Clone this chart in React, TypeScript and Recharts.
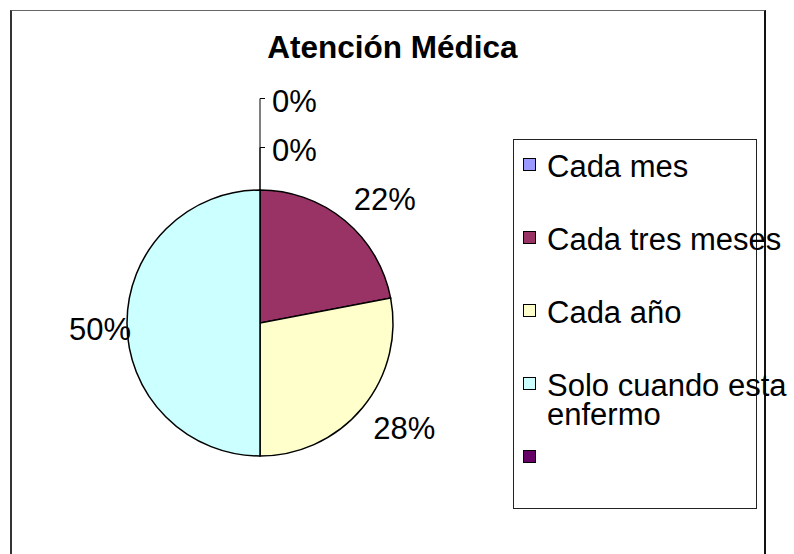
import React from 'react';
import { PieChart, Pie, Cell, Legend } from 'recharts';

const title = 'Atención Médica';
const categories = ['Cada mes', 'Cada tres meses', 'Cada año', 'Solo cuando esta enfermo', ''];
const values = [0, 22, 28, 50, 0];
const colors = ['#9999FF', '#993366', '#FFFFCC', '#CCFFFF', '#660066'];

const data = categories.map((name, i) => ({ name, value: values[i] }));

const FONT = '"Liberation Sans", Arial, Helvetica, sans-serif';
const FS = 31;
const RAD = Math.PI / 180;

const renderLabel = (props: any) => {
  const { cx, cy, midAngle, outerRadius, index, percent } = props;
  const text = `${Math.round((percent || 0) * 100)}%`;
  if (values[index] === 0) {
    const rank = values.slice(0, index).filter((v) => v === 0).length;
    const top = cy - outerRadius;
    const capCenter = top - 40 - 49 * rank;
    const tickY = capCenter - 2.5;
    return (
      <g key={`lbl-${index}`}>
        <polyline
          points={`${cx},${top} ${cx},${tickY} ${cx + 5},${tickY}`}
          fill="none"
          stroke="#000"
          strokeWidth={1}
        />
        <text x={cx + 12} y={capCenter + 11} fontSize={FS} fontFamily={FONT} fill="#000" textAnchor="start">
          {text}
        </text>
      </g>
    );
  }
  const cos = Math.cos(-midAngle * RAD);
  const sin = Math.sin(-midAngle * RAD);
  const horizontal = Math.abs(sin) < 0.2;
  const r = outerRadius + (horizontal ? -4 : 14);
  const px = cx + r * cos;
  const py = cy + r * sin;
  const w = text.length * FS * 0.667;
  const h = 22;
  const sx = Math.abs(cos) < 0.2 ? 0 : Math.sign(cos);
  const sy = horizontal ? 0 : Math.sign(sin);
  const ccx = px + (sx * w) / 2;
  const ccy = py + (sy * h) / 2 + (horizontal ? 6 : 0);
  return (
    <text
      key={`lbl-${index}`}
      x={ccx}
      y={ccy + 11}
      fontSize={FS}
      fontFamily={FONT}
      fill="#000"
      textAnchor="middle"
    >
      {text}
    </text>
  );
};

const renderLegend = () => (
  <div
    style={{
      position: 'relative',
      width: 244,
      height: 370,
      boxSizing: 'border-box',
      border: '1.5px solid #222',
      background: '#fff',
      fontFamily: FONT,
      fontSize: FS,
      color: '#000',
    }}
  >
    {categories.map((name, i) => (
      <div
        key={`leg-${i}`}
        style={{ position: 'absolute', left: 8.5, top: 12 + 73 * i, display: 'flex', alignItems: 'flex-start' }}
      >
        <div
          style={{
            width: 13,
            height: 13,
            boxSizing: 'border-box',
            border: '1px solid #000',
            background: colors[i],
            marginTop: 6,
            flex: '0 0 auto',
          }}
        />
        <div style={{ marginLeft: 11.5, width: 252, lineHeight: '29px', minHeight: 29 }}>{name}</div>
      </div>
    ))}
  </div>
);

export default function App() {
  return (
    <div
      style={{
        position: 'absolute',
        left: 0,
        top: 0,
        width: 794,
        height: 554,
        overflow: 'hidden',
        background: '#fff',
        fontFamily: FONT,
      }}
    >
      <div
        style={{
          position: 'absolute',
          left: 10,
          top: 10,
          width: 756,
          height: 620,
          boxSizing: 'border-box',
          borderTop: '1px solid #666',
          borderLeft: '2px solid #333',
          borderRight: '2px solid #111',
        }}
      />
      <div
        style={{
          position: 'absolute',
          left: 0,
          top: 32,
          width: 785,
          textAlign: 'center',
          fontWeight: 'bold',
          fontSize: 31.5,
          lineHeight: `${FS}px`,
          color: '#000',
        }}
      >
        {title}
      </div>
      <div style={{ position: 'absolute', left: 0, top: 0 }}>
        <PieChart width={794} height={554}>
          <Pie
            data={data}
            dataKey="value"
            nameKey="name"
            cx={255}
            cy={318}
            outerRadius={133}
            startAngle={90}
            endAngle={-270}
            stroke="#000"
            strokeWidth={1.5}
            label={renderLabel}
            labelLine={false}
            isAnimationActive={false}
          >
            {data.map((d, i) => (
              <Cell key={`cell-${i}`} fill={colors[i]} />
            ))}
          </Pie>
          <Legend
            content={renderLegend}
            wrapperStyle={{ left: 513, top: 139, width: 244, height: 370, right: 'auto', bottom: 'auto' }}
          />
        </PieChart>
      </div>
    </div>
  );
}
